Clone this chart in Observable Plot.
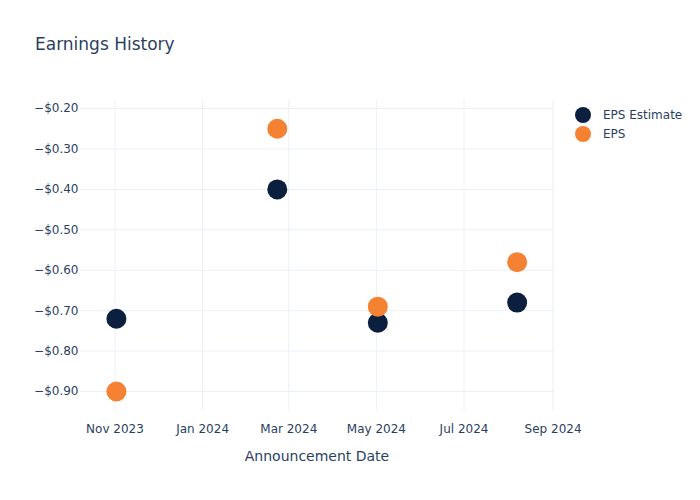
<!DOCTYPE html>
<html>
<head>
<meta charset="utf-8">
<script src="https://cdn.jsdelivr.net/npm/d3@7"></script>
<script src="https://cdn.jsdelivr.net/npm/@observablehq/plot@0.6"></script>
<style>
  html, body { margin: 0; padding: 0; background: #fff; }
  #wrap { position: relative; width: 700px; height: 500px; font-family: "DejaVu Sans", sans-serif; color: #2a3f5f; }
  #title { position: absolute; left: 35px; top: 34px; font-size: 17px; }
  .leg { position: absolute; left: 575px; font-size: 12px; display: flex; align-items: center; }
  .leg span.dot { width: 16px; height: 16px; border-radius: 50%; display: inline-block; margin-right: 12px; }
  #xlabel { position: absolute; left: 0; width: 634px; text-align: center; top: 448px; font-size: 14px; }
</style>
</head>
<body>
<div id="wrap">
  <div id="chart"></div>
  <div id="title">Earnings History</div>
  <div id="xlabel">Announcement Date</div>
</div>
<script>
const dates = ["2023-11-02", "2024-02-22", "2024-05-02", "2024-08-07"];
const epsEstimate = [-0.72, -0.40, -0.73, -0.68];
const eps = [-0.90, -0.25, -0.69, -0.58];
const seriesNames = ["EPS Estimate", "EPS"];
const seriesColors = ["#0c1f3f", "#f58232"];
const xTicks = ["2023-11-01", "2024-01-01", "2024-03-01", "2024-05-01", "2024-07-01", "2024-09-01"];
const yTicks = [-0.2, -0.3, -0.4, -0.5, -0.6, -0.7, -0.8, -0.9];

const rows = [];
dates.forEach((d, i) => {
  rows.push({date: new Date(d), value: epsEstimate[i], series: seriesNames[0]});
  rows.push({date: new Date(d), value: eps[i], series: seriesNames[1]});
});

const fmtY = d3.format("$.2f");
const fmtX = d3.utcFormat("%b %Y");
const gridColor = "#ebf0f8";
const textColor = "#2a3f5f";

const chart = Plot.plot({
  width: 700,
  height: 500,
  marginLeft: 80,
  marginRight: 146,
  marginTop: 100,
  marginBottom: 90,
  style: {fontFamily: "DejaVu Sans, sans-serif", fontSize: "12px", color: textColor, background: "transparent"},
  x: {type: "utc", domain: [new Date("2023-10-08"), new Date("2024-09-02")]},
  y: {domain: [-0.947, -0.180]},
  color: {domain: seriesNames, range: seriesColors},
  marks: [
    Plot.gridX(xTicks.map(d => new Date(d)), {stroke: gridColor, strokeOpacity: 1}),
    Plot.gridY(yTicks, {stroke: gridColor, strokeOpacity: 1}),
    Plot.axisX(xTicks.map(d => new Date(d)), {tickSize: 0, tickPadding: 14, tickFormat: fmtX, label: null, fill: textColor, fontSize: 12}),
    Plot.axisY(yTicks, {tickSize: 0, tickPadding: 2, tickFormat: fmtY, label: null, fill: textColor, fontSize: 12}),
    Plot.dot(rows, {x: "date", y: "value", fill: "series", r: 10, stroke: "none"})
  ]
});
document.getElementById("chart").appendChild(chart);

const wrap = document.getElementById("wrap");
seriesNames.forEach((name, i) => {
  const div = document.createElement("div");
  div.className = "leg";
  div.style.top = (107 + i * 19) + "px";
  div.innerHTML = `<span class="dot" style="background:${seriesColors[i]}"></span>${name}`;
  wrap.appendChild(div);
});
</script>
</body>
</html>
